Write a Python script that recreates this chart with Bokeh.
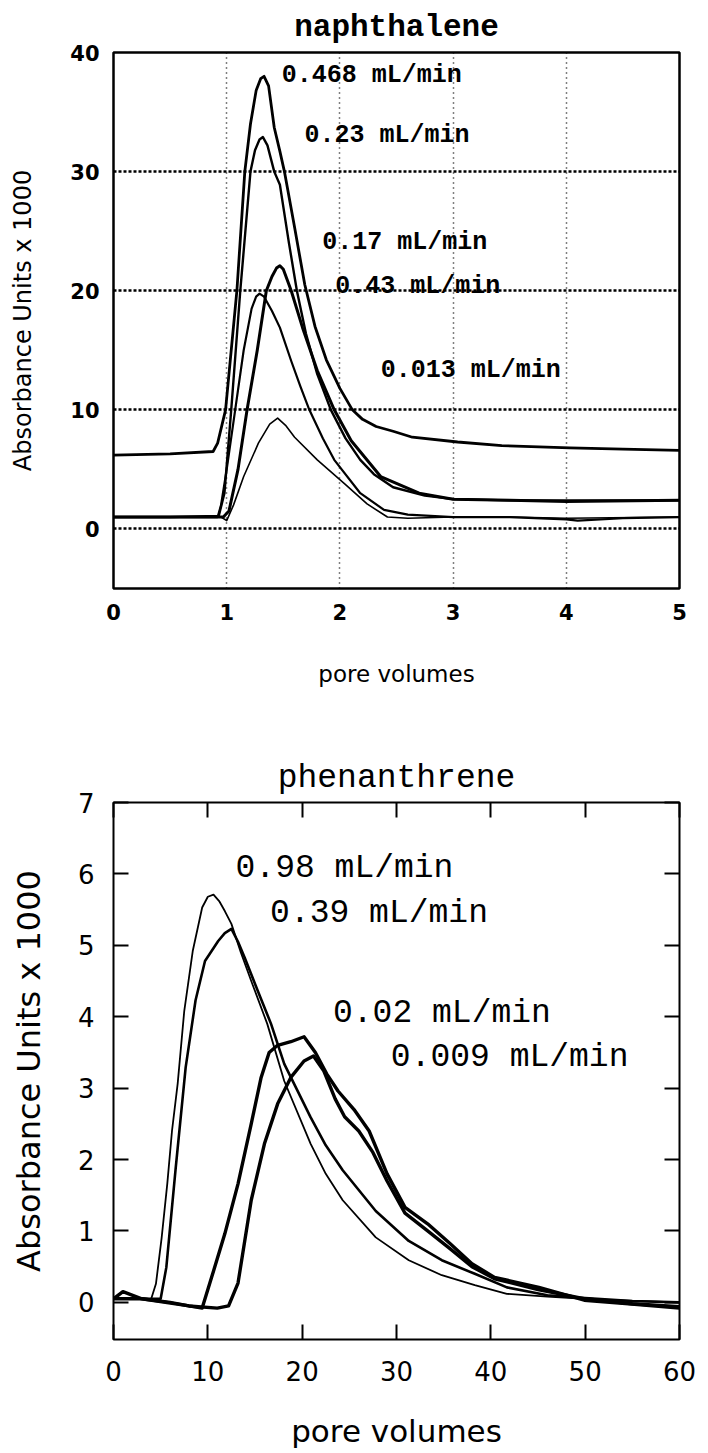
from bokeh.plotting import figure
from bokeh.layouts import column
from bokeh.models import FixedTicker, LinearAxis, ColumnDataSource, CustomJSTickFormatter
from bokeh.core.properties import value
from bokeh.embed import file_html
from bokeh.resources import INLINE

# ---------------- naphthalene (top panel) ----------------
nap_title = "naphthalene"
nap_xticks = [0, 1, 2, 3, 4, 5]
nap_yticks = [0, 10, 20, 30, 40]

# 0.468 mL/min
nap_a_x = [0, 0.5, 0.88, 0.92, 0.99, 1.09, 1.16, 1.21, 1.26, 1.3, 1.33, 1.37, 1.42, 1.47, 1.51, 1.6, 1.69, 1.78, 1.88, 2.0, 2.11, 2.2, 2.32, 2.47, 2.64, 3.04, 3.43, 4.03, 4.5, 5.0]
nap_a_y = [6.2, 6.3, 6.5, 7.2, 10, 20, 30, 34, 36.8, 37.8, 38, 37.2, 33.7, 31.7, 30, 25.3, 20.5, 17, 14.2, 11.8, 10, 9.2, 8.6, 8.2, 7.7, 7.3, 7.0, 6.8, 6.7, 6.6]
# 0.23 mL/min
nap_b_x = [0, 0.5, 0.93, 0.98, 1.04, 1.12, 1.21, 1.25, 1.29, 1.32, 1.36, 1.42, 1.47, 1.55, 1.62, 1.7, 1.8, 1.92, 2.05, 2.18, 2.3, 2.47, 2.75, 3.0, 3.5, 4.0, 4.5, 5.0]
nap_b_y = [1.0, 1.0, 1.1, 3.0, 10, 20, 30, 31.8, 32.7, 32.9, 32.2, 30, 28.9, 24, 20, 16.4, 13, 10, 7.6, 5.8, 4.6, 3.5, 2.8, 2.5, 2.4, 2.4, 2.4, 2.4]
# 0.17 mL/min
nap_c_x = [0, 0.5, 0.97, 1.02, 1.1, 1.18, 1.27, 1.35, 1.4, 1.44, 1.47, 1.5, 1.57, 1.67, 1.8, 1.95, 2.1, 2.36, 2.7, 3.0, 3.5, 4.0, 5.0]
nap_c_y = [1.0, 1.0, 1.0, 1.5, 5, 10, 15, 20, 21.2, 21.9, 22.1, 21.8, 20, 16.9, 13.3, 10, 7.4, 4.4, 3.0, 2.5, 2.4, 2.3, 2.4]
# 0.43 mL/min
nap_d_x = [0, 0.5, 0.92, 0.95, 1.0, 1.075, 1.15, 1.22, 1.26, 1.29, 1.33, 1.4, 1.47, 1.57, 1.65, 1.73, 1.85, 1.95, 2.18, 2.39, 2.6, 3.0, 3.5, 4.0, 4.1, 4.5, 5.0]
nap_d_y = [1.0, 1.0, 1.0, 2, 5, 10, 15, 18.5, 19.5, 19.75, 19.5, 18.3, 16.9, 14.1, 12, 10, 7.6, 5.8, 3.0, 1.6, 1.2, 1.0, 1.0, 0.8, 0.7, 0.9, 1.0]
# 0.013 mL/min
nap_e_x = [0, 0.5, 0.95, 1.0, 1.06, 1.15, 1.28, 1.38, 1.45, 1.52, 1.6, 1.8, 2.04, 2.24, 2.42, 2.6, 3.0, 3.5, 4.0, 5.0]
nap_e_y = [1.0, 1.0, 1.0, 0.7, 2.0, 4.4, 7.2, 8.8, 9.3, 8.7, 7.7, 5.8, 3.8, 2.1, 1.0, 0.9, 1.0, 1.0, 0.9, 1.0]

nap_labels = ["0.468 mL/min", "0.23 mL/min", "0.17 mL/min", "0.43 mL/min", "0.013 mL/min"]
nap_label_x = [1.486, 1.687, 1.844, 1.958, 2.36]
nap_label_y = [38.05, 33.0, 24.06, 20.37, 13.33]

# ---------------- phenanthrene (bottom panel) ----------------
phe_title = "phenanthrene"
phe_xticks = [0, 10, 20, 30, 40, 50, 60]
phe_yticks = [0, 1, 2, 3, 4, 5, 6, 7]

# 0.98 mL/min
phe_a_x = [0, 2, 4.0, 4.5, 5.1, 5.7, 6.2, 6.8, 7.5, 8.4, 9.4, 10.0, 10.6, 11.2, 11.8, 12.5, 13.5, 14.6, 16.3, 18.1, 20.9, 22.5, 24.3, 27.8, 31.3, 34.8, 38.3, 41.7, 46, 50, 55, 60]
phe_a_y = [0.05, 0.05, 0.05, 0.26, 0.9, 1.66, 2.4, 3.06, 4.08, 4.92, 5.53, 5.68, 5.71, 5.62, 5.48, 5.3, 4.9, 4.5, 3.9, 3.1, 2.22, 1.8, 1.43, 0.91, 0.59, 0.38, 0.24, 0.12, 0.08, 0.05, 0.02, 0.0]
# 0.39 mL/min
phe_b_x = [0, 3, 5.0, 5.6, 6.6, 7.65, 8.7, 9.7, 11.1, 11.8, 12.5, 13.2, 13.9, 15.3, 16.7, 18.1, 20.9, 22.5, 24.3, 27.8, 31.3, 34.8, 38.3, 41.7, 46, 50, 55, 60]
phe_b_y = [0.05, 0.05, 0.05, 0.49, 1.89, 3.29, 4.23, 4.78, 5.06, 5.17, 5.23, 5.05, 4.83, 4.36, 3.9, 3.34, 2.59, 2.2, 1.85, 1.28, 0.86, 0.59, 0.4, 0.21, 0.1, 0.06, 0.02, 0.0]
# 0.02 mL/min
phe_c_x = [0, 1, 3, 6, 8, 9.4, 10.4, 11.8, 13.2, 14.6, 15.65, 16.5, 17.4, 18.8, 20.2, 21.4, 22.6, 23.8, 25.5, 27.1, 29.0, 30.9, 33.3, 35.7, 38.0, 40.4, 45.1, 49.9, 54.6, 60]
phe_c_y = [0.05, 0.15, 0.05, 0.0, -0.05, -0.08, 0.35, 0.96, 1.66, 2.5, 3.15, 3.5, 3.6, 3.65, 3.72, 3.5, 3.2, 2.96, 2.7, 2.4, 1.8, 1.33, 1.1, 0.82, 0.54, 0.35, 0.21, 0.03, -0.02, -0.08]
# 0.009 mL/min
phe_d_x = [0, 3, 8, 11, 12.2, 13.2, 14.6, 16.0, 17.4, 18.8, 20.2, 21.2, 22.3, 23.5, 24.5, 26, 27.5, 29.0, 30.9, 33.3, 35.7, 38.0, 40.4, 45, 50, 55, 60]
phe_d_y = [0.05, 0.05, -0.05, -0.08, -0.05, 0.27, 1.43, 2.22, 2.78, 3.15, 3.38, 3.45, 3.24, 2.85, 2.6, 2.4, 2.1, 1.7, 1.25, 1.0, 0.75, 0.5, 0.33, 0.18, 0.05, -0.02, -0.06]

phe_labels = ["0.98 mL/min", "0.39 mL/min", "0.02 mL/min", "0.009 mL/min"]
phe_label_x = [12.94, 16.6, 23.27, 29.4]
phe_label_y = [6.07, 5.45, 4.04, 3.43]

y_label = "Absorbance Units x 1000"
x_label = "pore volumes"

# ---------------- top figure ----------------
p1 = figure(width=708, height=700, x_range=(0, 5), y_range=(-5, 40),
            output_backend="svg", toolbar_location=None,
            min_border_left=107, min_border_right=29, min_border_top=52, min_border_bottom=112,
            title=nap_title)
p1.title.align = "center"
p1.title.text_font = "Liberation Mono"
p1.title.text_font_size = "31px"
p1.title.text_font_style = "bold"
p1.title.text_color = "black"
p1.title.standoff = 15
p1.outline_line_color = "black"
p1.outline_line_width = 2.5
p1.background_fill_color = "white"
p1.border_fill_color = "white"

for ax in (p1.xaxis[0], p1.yaxis[0]):
    ax.major_tick_in = 0
    ax.major_tick_out = 0
    ax.minor_tick_line_color = None
    ax.axis_line_color = None
    ax.major_label_text_font = "DejaVu Sans"
    ax.major_label_text_font_size = "21px"
    ax.major_label_text_font_style = "bold"
    ax.major_label_text_color = "black"
    ax.axis_label_text_font = "DejaVu Sans"
    ax.axis_label_text_font_style = "normal"
    ax.axis_label_text_color = "black"
p1.xaxis.ticker = FixedTicker(ticks=nap_xticks)
p1.yaxis.ticker = FixedTicker(ticks=nap_yticks)
p1.xaxis.major_label_standoff = 15
p1.yaxis.major_label_standoff = 14
p1.xaxis.axis_label = x_label
p1.yaxis.axis_label = y_label
p1.xaxis.axis_label_text_font_size = "23px"
p1.yaxis.axis_label_text_font_size = "24px"
p1.xaxis.axis_label_standoff = 38
p1.yaxis.axis_label_standoff = 30

p1.xgrid.grid_line_color = "black"
p1.xgrid.grid_line_dash = "1 4"
p1.xgrid.grid_line_width = 1.5
p1.ygrid.grid_line_color = "black"
p1.ygrid.grid_line_dash = "3 2"
p1.ygrid.grid_line_width = 2.5

nap_series = [(nap_a_x, nap_a_y, 2.8), (nap_b_x, nap_b_y, 2.4), (nap_c_x, nap_c_y, 3.0),
              (nap_d_x, nap_d_y, 2.2), (nap_e_x, nap_e_y, 1.6)]
for xs, ys, lw in nap_series:
    p1.line(xs, ys, line_color="black", line_width=lw, line_join="round")

src1 = ColumnDataSource(dict(x=nap_label_x, y=nap_label_y, t=nap_labels))
p1.text(x="x", y="y", text="t", source=src1, text_font=value("Liberation Mono"),
        text_font_size=value("25px"), text_font_style="bold", text_color="black",
        text_align="left", text_baseline="middle")

# ---------------- bottom figure ----------------
p2 = figure(width=708, height=753, x_range=(0, 60), y_range=(-0.52, 7),
            output_backend="svg", toolbar_location=None,
            min_border_left=113, min_border_right=20, min_border_top=102, min_border_bottom=114,
            title=phe_title)
p2.title.align = "center"
p2.title.text_font = "Liberation Mono"
p2.title.text_font_size = "33px"
p2.title.text_font_style = "normal"
p2.title.text_color = "black"
p2.title.standoff = 12
p2.outline_line_color = "black"
p2.outline_line_width = 2
p2.background_fill_color = "white"
p2.border_fill_color = "white"
p2.xgrid.grid_line_color = None
p2.ygrid.grid_line_color = None

p2.add_layout(LinearAxis(formatter=CustomJSTickFormatter(code="return ''"), major_label_standoff=0), "right")
p2.add_layout(LinearAxis(formatter=CustomJSTickFormatter(code="return ''"), major_label_standoff=0), "above")
for ax in p2.axis:
    ax.major_tick_in = 15
    ax.major_tick_out = 0
    ax.major_tick_line_width = 2
    ax.major_tick_line_color = "black"
    ax.minor_tick_line_color = None
    ax.axis_line_color = None
    ax.major_label_text_font = "DejaVu Sans"
    ax.major_label_text_font_size = "26px"
    ax.major_label_text_font_style = "normal"
    ax.major_label_text_color = "black"
    ax.axis_label_text_font = "DejaVu Sans"
    ax.axis_label_text_font_style = "normal"
    ax.axis_label_text_color = "black"
for ax in p2.xaxis:
    ax.ticker = FixedTicker(ticks=phe_xticks)
for ax in p2.yaxis:
    ax.ticker = FixedTicker(ticks=phe_yticks)
p2.below[0].major_label_standoff = 21
p2.left[0].major_label_standoff = 19
p2.below[0].axis_label = x_label
p2.left[0].axis_label = y_label
p2.below[0].axis_label_text_font_size = "31px"
p2.left[0].axis_label_text_font_size = "32px"
p2.below[0].axis_label_standoff = 29
p2.left[0].axis_label_standoff = 27

phe_series = [(phe_a_x, phe_a_y, 1.8), (phe_b_x, phe_b_y, 2.6), (phe_c_x, phe_c_y, 3.4), (phe_d_x, phe_d_y, 3.4)]
for xs, ys, lw in phe_series:
    p2.line(xs, ys, line_color="black", line_width=lw, line_join="round")

src2 = ColumnDataSource(dict(x=phe_label_x, y=phe_label_y, t=phe_labels))
p2.text(x="x", y="y", text="t", source=src2, text_font=value("Liberation Mono"),
        text_font_size=value("33px"), text_font_style="normal", text_color="black",
        text_align="left", text_baseline="middle")

layout = column(p1, p2, spacing=0)
open("out.html", "w").write(file_html(layout, INLINE))
